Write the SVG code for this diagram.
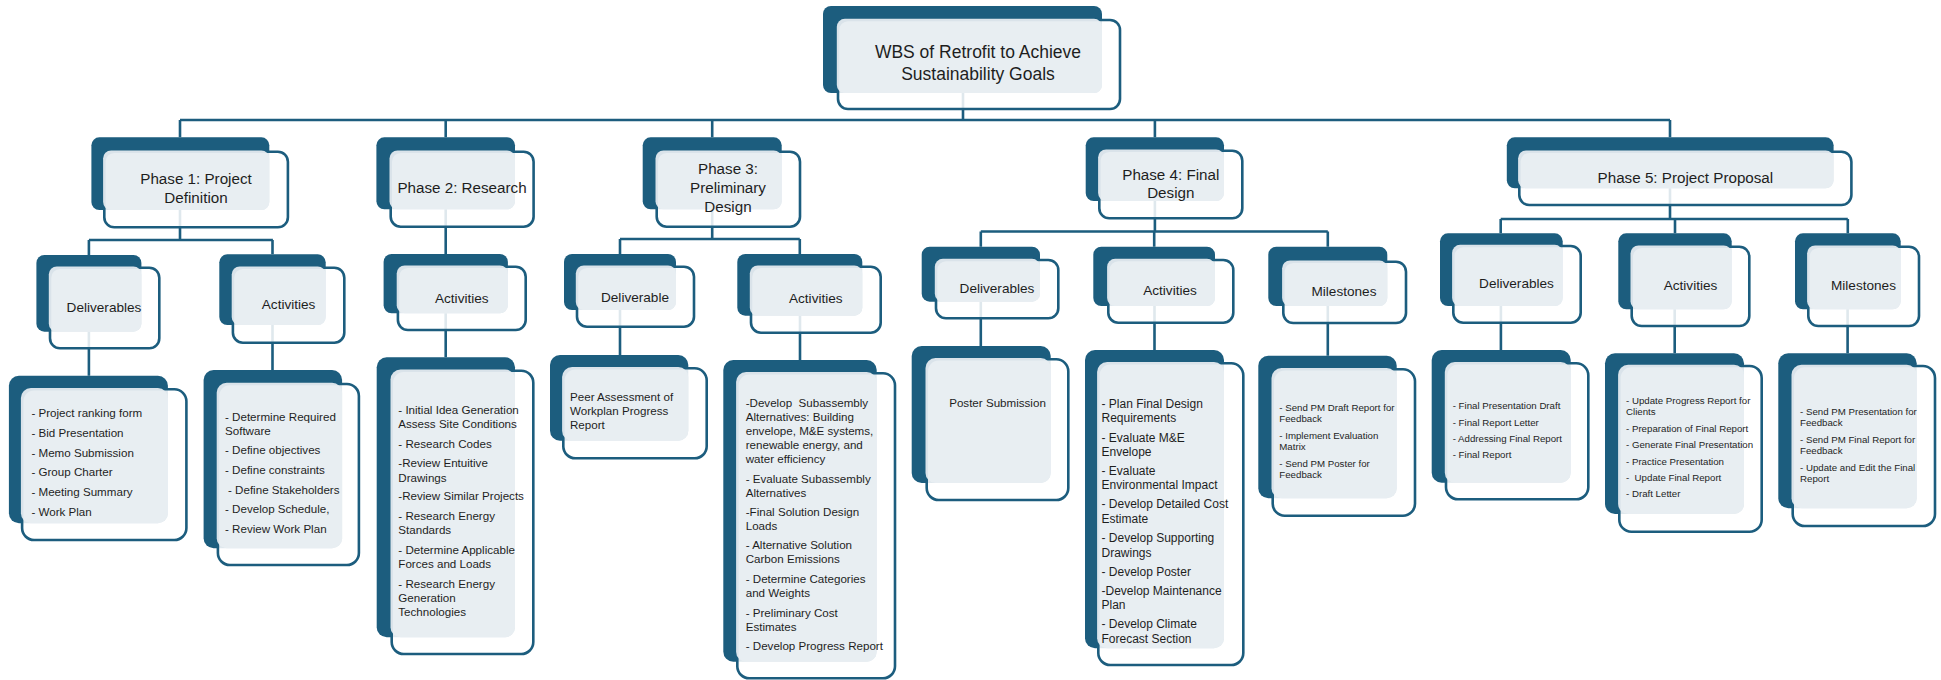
<svg xmlns="http://www.w3.org/2000/svg" width="1941" height="680" viewBox="0 0 1941 680">
<style>
.dk{fill:#1c5d7e}
.fr{fill:#ffffff;fill-opacity:0.86;stroke:#1c5d7e;stroke-width:2.6}
.lt{fill:#e8eef2;fill-opacity:0.93}
.cn{stroke:#1c5d7e;stroke-width:2.6;fill:none}
text{font-family:"Liberation Sans",Arial,sans-serif;fill:#1e1e1e}
.t1{font-size:17.5px;text-anchor:middle}
.t2{font-size:15.2px;text-anchor:middle}
.t3{font-size:13.6px;text-anchor:middle}
.t4{font-size:11.6px}
.t5{font-size:9.7px}
</style>
<rect width="1941" height="680" fill="#ffffff"/>
<g id="connectors" class="cn">
<path d="M963 93V120M180 120H1670M180 120V137.3M445.7 120V137.3M712.2 120V137.3M1154.9 120V137.3M1670 120V137.3"/>
<path d="M180 210V240M88.9 240H272.9M88.9 240V255M272.5 240V254.3"/>
<path d="M445.7 209.3V254"/>
<path d="M712.2 209.3V239M620 239H799.8M620 239V254M799.8 239V254"/>
<path d="M1154.9 201V231.5M980.8 231.5H1327.8M980.8 231.5V246.7M1154.2 231.5V246.7M1327.8 231.5V246.7"/>
<path d="M1670 188.3V219M1500.7 219H1847.8M1500.7 219V233.3M1675 219V233.3M1847.8 219V233.3"/>
<path d="M88.9 331.7V375.7M272.5 325V370M445.7 313.3V357.3M620 310V355M800 315.7V360M980.8 301.7V346M1154.5 306V350M1327.8 306V355.7M1500.9 306V350M1674.7 309.3V353.3M1847.6 309.3V353.3"/>
</g>
<g id="n-root">
<rect class="dk" x="823" y="6" width="279" height="87" rx="8"/>
<rect class="fr" x="838" y="20" width="282" height="89" rx="10"/>
<rect class="lt" x="836.8" y="18.8" width="265.2" height="74.2" rx="8"/>
<text class="t1"><tspan x="978" y="58">WBS of Retrofit to Achieve</tspan><tspan x="978" y="80">Sustainability Goals</tspan></text>
</g>
<g id="n-p1">
<rect class="dk" x="91.4" y="137.3" width="177.9" height="72.7" rx="8"/>
<rect class="fr" x="104.3" y="151.7" width="183.6" height="75.6" rx="10"/>
<rect class="lt" x="103.1" y="150.5" width="166.2" height="59.5" rx="8"/>
<text class="t2"><tspan x="196" y="184.3">Phase 1: Project</tspan><tspan x="196" y="202.7">Definition</tspan></text>
</g>
<g id="n-p2">
<rect class="dk" x="376.4" y="137.3" width="138.6" height="72" rx="8"/>
<rect class="fr" x="390.7" y="151.7" width="142.9" height="75" rx="10"/>
<rect class="lt" x="389.5" y="150.5" width="125.5" height="58.8" rx="8"/>
<text class="t2" x="462" y="192.7">Phase 2: Research</text>
</g>
<g id="n-p3">
<rect class="dk" x="642.7" y="137.3" width="139" height="72" rx="8"/>
<rect class="fr" x="656.7" y="151.7" width="143.3" height="75" rx="10"/>
<rect class="lt" x="655.5" y="150.5" width="126.2" height="58.8" rx="8"/>
<text class="t2"><tspan x="728" y="174.3">Phase 3:</tspan><tspan x="728" y="193.3">Preliminary</tspan><tspan x="728" y="211.7">Design</tspan></text>
</g>
<g id="n-p4">
<rect class="dk" x="1085.7" y="137.3" width="138.3" height="63.7" rx="8"/>
<rect class="fr" x="1099.3" y="150.7" width="143" height="67.6" rx="10"/>
<rect class="lt" x="1098.1" y="149.5" width="125.9" height="51.5" rx="8"/>
<text class="t2"><tspan x="1170.8" y="180">Phase 4: Final</tspan><tspan x="1170.8" y="198.3">Design</tspan></text>
</g>
<g id="n-p5">
<rect class="dk" x="1506.8" y="137.3" width="326.8" height="51" rx="8"/>
<rect class="fr" x="1519.3" y="151.7" width="332.1" height="53.3" rx="10"/>
<rect class="lt" x="1518.1" y="150.5" width="315.5" height="37.8" rx="8"/>
<text class="t2" x="1685.4" y="182.7">Phase 5: Project Proposal</text>
</g>
<g id="n-p1-deliverables">
<rect class="dk" x="36.4" y="255" width="105" height="76.7" rx="8"/>
<rect class="fr" x="50" y="267.7" width="109.3" height="80.6" rx="10"/>
<rect class="lt" x="48.8" y="266.5" width="92.6" height="65.2" rx="8"/>
<text class="t3" x="104" y="311.7">Deliverables</text>
</g>
<g id="n-p1-activities">
<rect class="dk" x="219.3" y="254.3" width="106.4" height="70.7" rx="8"/>
<rect class="fr" x="232.9" y="267.7" width="111.4" height="75" rx="10"/>
<rect class="lt" x="231.7" y="266.5" width="94" height="58.5" rx="8"/>
<text class="t3" x="288.6" y="309">Activities</text>
</g>
<g id="n-p2-activities">
<rect class="dk" x="383.6" y="254" width="124.3" height="59.3" rx="8"/>
<rect class="fr" x="397.9" y="266.7" width="127.8" height="63.3" rx="10"/>
<rect class="lt" x="396.7" y="265.5" width="111.2" height="47.8" rx="8"/>
<text class="t3" x="461.8" y="302.7">Activities</text>
</g>
<g id="n-p3-deliverable">
<rect class="dk" x="564" y="254" width="112" height="56" rx="8"/>
<rect class="fr" x="577" y="266.7" width="117" height="60" rx="10"/>
<rect class="lt" x="575.8" y="265.5" width="100.2" height="44.5" rx="8"/>
<text class="t3" x="635" y="301.7">Deliverable</text>
</g>
<g id="n-p3-activities">
<rect class="dk" x="737.3" y="254" width="125" height="61.7" rx="8"/>
<rect class="fr" x="751" y="266.7" width="129.7" height="66" rx="10"/>
<rect class="lt" x="749.8" y="265.5" width="112.5" height="50.2" rx="8"/>
<text class="t3" x="815.8" y="303.3">Activities</text>
</g>
<g id="n-p4-deliverables">
<rect class="dk" x="921.7" y="246.7" width="118.3" height="55" rx="8"/>
<rect class="fr" x="936" y="260" width="122.3" height="58.3" rx="10"/>
<rect class="lt" x="934.8" y="258.8" width="105.2" height="42.9" rx="8"/>
<text class="t3" x="997" y="292.7">Deliverables</text>
</g>
<g id="n-p4-activities">
<rect class="dk" x="1093.3" y="246.7" width="121.7" height="59.3" rx="8"/>
<rect class="fr" x="1108.3" y="260" width="125" height="62.7" rx="10"/>
<rect class="lt" x="1107.1" y="258.8" width="107.9" height="47.2" rx="8"/>
<text class="t3" x="1170" y="295">Activities</text>
</g>
<g id="n-p4-milestones">
<rect class="dk" x="1268.3" y="246.7" width="119" height="59.3" rx="8"/>
<rect class="fr" x="1283.3" y="261.7" width="122.7" height="61.3" rx="10"/>
<rect class="lt" x="1282.1" y="260.5" width="105.2" height="45.5" rx="8"/>
<text class="t3" x="1344" y="296">Milestones</text>
</g>
<g id="n-p5-deliverables">
<rect class="dk" x="1440" y="233.3" width="122.7" height="72.7" rx="8"/>
<rect class="fr" x="1453.3" y="246" width="127.4" height="76.7" rx="10"/>
<rect class="lt" x="1452.1" y="244.8" width="110.6" height="61.2" rx="8"/>
<text class="t3" x="1516.5" y="288.3">Deliverables</text>
</g>
<g id="n-p5-activities">
<rect class="dk" x="1618.3" y="233.3" width="113.4" height="76" rx="8"/>
<rect class="fr" x="1631.7" y="246.7" width="117.6" height="79.3" rx="10"/>
<rect class="lt" x="1630.5" y="245.5" width="101.2" height="63.8" rx="8"/>
<text class="t3" x="1690.5" y="290">Activities</text>
</g>
<g id="n-p5-milestones">
<rect class="dk" x="1795" y="233.3" width="105.7" height="76" rx="8"/>
<rect class="fr" x="1808.3" y="246.7" width="110.7" height="79.3" rx="10"/>
<rect class="lt" x="1807.1" y="245.5" width="93.6" height="63.8" rx="8"/>
<text class="t3" x="1863.5" y="290">Milestones</text>
</g>
<g id="n-p1-deliverables-list">
<rect class="dk" x="8.9" y="375.7" width="159" height="147.6" rx="10"/>
<rect class="fr" x="22.1" y="389.3" width="164.3" height="150.7" rx="12"/>
<rect class="lt" x="20.9" y="388.1" width="147" height="135.2" rx="10"/>
<text class="t4"><tspan x="31.4" y="417.3">- Project ranking form</tspan><tspan x="31.4" y="437">- Bid Presentation</tspan><tspan x="31.4" y="456.7">- Memo Submission</tspan><tspan x="31.4" y="476.3">- Group Charter</tspan><tspan x="31.4" y="496">- Meeting Summary</tspan><tspan x="31.4" y="515.5">- Work Plan</tspan></text>
</g>
<g id="n-p1-activities-list">
<rect class="dk" x="203.6" y="370" width="138.5" height="178.3" rx="10"/>
<rect class="fr" x="217.9" y="384" width="141" height="181" rx="12"/>
<rect class="lt" x="216.7" y="382.8" width="125.4" height="165.5" rx="10"/>
<text class="t4"><tspan x="225" y="421">- Determine Required</tspan><tspan x="225" y="434.5">Software</tspan><tspan x="225" y="454.3">- Define objectives</tspan><tspan x="225" y="474.3">- Define constraints</tspan><tspan x="228" y="494">- Define Stakeholders</tspan><tspan x="225" y="513.3">- Develop Schedule,</tspan><tspan x="225" y="532.7">- Review Work Plan</tspan></text>
</g>
<g id="n-p2-activities-list">
<rect class="dk" x="376.7" y="357.3" width="138.3" height="280" rx="10"/>
<rect class="fr" x="391.7" y="370.7" width="141.6" height="283.3" rx="12"/>
<rect class="lt" x="390.5" y="369.5" width="124.5" height="267.8" rx="10"/>
<text class="t4"><tspan x="398.3" y="414">- Initial Idea Generation</tspan><tspan x="398.3" y="427.7">Assess Site Conditions</tspan><tspan x="398.3" y="447.7">- Research Codes</tspan><tspan x="398.3" y="467.3">-Review Entuitive</tspan><tspan x="398.3" y="481.7">Drawings</tspan><tspan x="398.3" y="500">-Review Similar Projects</tspan><tspan x="398.3" y="520">- Research Energy</tspan><tspan x="398.3" y="534.3">Standards</tspan><tspan x="398.3" y="554.3">- Determine Applicable</tspan><tspan x="398.3" y="568.3">Forces and Loads</tspan><tspan x="398.3" y="587.7">- Research Energy</tspan><tspan x="398.3" y="601.5">Generation</tspan><tspan x="398.3" y="615.5">Technologies</tspan></text>
</g>
<g id="n-p3-deliverable-list">
<rect class="dk" x="550" y="355" width="138.3" height="85.7" rx="10"/>
<rect class="fr" x="563.3" y="368.3" width="143.4" height="90" rx="12"/>
<rect class="lt" x="562.1" y="367.1" width="126.2" height="73.6" rx="10"/>
<text class="t4"><tspan x="570" y="400.7">Peer Assessment of</tspan><tspan x="570" y="415">Workplan Progress</tspan><tspan x="570" y="429">Report</tspan></text>
</g>
<g id="n-p3-activities-list">
<rect class="dk" x="723.3" y="360" width="153.4" height="301.7" rx="10"/>
<rect class="fr" x="737.3" y="373.3" width="157.7" height="305" rx="12"/>
<rect class="lt" x="736.1" y="372.1" width="140.6" height="289.6" rx="10"/>
<text class="t4" xml:space="preserve"><tspan x="745.7" y="406.7">-Develop  Subassembly</tspan><tspan x="745.7" y="421">Alternatives: Building</tspan><tspan x="745.7" y="435">envelope, M&amp;E systems,</tspan><tspan x="745.7" y="449">renewable energy, and</tspan><tspan x="745.7" y="463.3">water efficiency</tspan><tspan x="745.7" y="483.3">- Evaluate Subassembly</tspan><tspan x="745.7" y="497.3">Alternatives</tspan><tspan x="745.7" y="515.7">-Final Solution Design</tspan><tspan x="745.7" y="530">Loads</tspan><tspan x="745.7" y="549.3">- Alternative Solution</tspan><tspan x="745.7" y="563.3">Carbon Emissions</tspan><tspan x="745.7" y="583.3">- Determine Categories</tspan><tspan x="745.7" y="596.7">and Weights</tspan><tspan x="745.7" y="616.7">- Preliminary Cost</tspan><tspan x="745.7" y="630.7">Estimates</tspan><tspan x="745.7" y="650">- Develop Progress Report</tspan></text>
</g>
<g id="n-p4-deliverables-list">
<rect class="dk" x="911.7" y="346" width="139" height="137" rx="10"/>
<rect class="fr" x="926.7" y="359.3" width="141.6" height="140.7" rx="12"/>
<rect class="lt" x="925.5" y="358.1" width="125.2" height="124.9" rx="10"/>
<text class="t4" x="997.5" y="406.7" text-anchor="middle">Poster Submission</text>
</g>
<g id="n-p4-activities-list">
<rect class="dk" x="1085" y="350" width="139" height="298.3" rx="10"/>
<rect class="fr" x="1098.3" y="363.3" width="145" height="301.7" rx="12"/>
<rect class="lt" x="1097.1" y="362.1" width="126.9" height="286.2" rx="10"/>
<text class="t4" style="font-size:12px"><tspan x="1101.5" y="407.7">- Plan Final Design</tspan><tspan x="1101.5" y="421.7">Requirements</tspan><tspan x="1101.5" y="441.7">- Evaluate M&amp;E</tspan><tspan x="1101.5" y="456">Envelope</tspan><tspan x="1101.5" y="475">- Evaluate</tspan><tspan x="1101.5" y="489.3">Environmental Impact</tspan><tspan x="1101.5" y="508.3">- Develop Detailed Cost</tspan><tspan x="1101.5" y="522.7">Estimate</tspan><tspan x="1101.5" y="542.3">- Develop Supporting</tspan><tspan x="1101.5" y="556.7">Drawings</tspan><tspan x="1101.5" y="575.7">- Develop Poster</tspan><tspan x="1101.5" y="595">-Develop Maintenance</tspan><tspan x="1101.5" y="609.3">Plan</tspan><tspan x="1101.5" y="628.3">- Develop Climate</tspan><tspan x="1101.5" y="642.7">Forecast Section</tspan></text>
</g>
<g id="n-p4-milestones-list">
<rect class="dk" x="1258.3" y="355.7" width="138.4" height="142.6" rx="10"/>
<rect class="fr" x="1272.7" y="369.3" width="142.3" height="146.4" rx="12"/>
<rect class="lt" x="1271.5" y="368.1" width="125.2" height="130.2" rx="10"/>
<text class="t5"><tspan x="1279.3" y="410.7">- Send PM Draft Report for</tspan><tspan x="1279.3" y="421.7">Feedback</tspan><tspan x="1279.3" y="439">- Implement Evaluation</tspan><tspan x="1279.3" y="450">Matrix</tspan><tspan x="1279.3" y="467.3">- Send PM Poster for</tspan><tspan x="1279.3" y="478.3">Feedback</tspan></text>
</g>
<g id="n-p5-deliverables-list">
<rect class="dk" x="1431.7" y="350" width="139" height="132.7" rx="10"/>
<rect class="fr" x="1446" y="363.3" width="142.3" height="136" rx="12"/>
<rect class="lt" x="1444.8" y="362.1" width="125.9" height="120.6" rx="10"/>
<text class="t5"><tspan x="1452.7" y="409">- Final Presentation Draft</tspan><tspan x="1452.7" y="425.7">- Final Report Letter</tspan><tspan x="1452.7" y="441.7">- Addressing Final Report</tspan><tspan x="1452.7" y="458.3">- Final Report</tspan></text>
</g>
<g id="n-p5-activities-list">
<rect class="dk" x="1605" y="353.3" width="139" height="160.7" rx="10"/>
<rect class="fr" x="1619.3" y="366" width="142.4" height="165.7" rx="12"/>
<rect class="lt" x="1618.1" y="364.8" width="125.9" height="149.2" rx="10"/>
<text class="t5" xml:space="preserve"><tspan x="1626" y="404">- Update Progress Report for</tspan><tspan x="1626" y="415">Clients</tspan><tspan x="1626" y="432.3">- Preparation of Final Report</tspan><tspan x="1626" y="448.3">- Generate Final Presentation</tspan><tspan x="1626" y="465">- Practice Presentation</tspan><tspan x="1626" y="480.7">-  Update Final Report</tspan><tspan x="1626" y="497.3">- Draft Letter</tspan></text>
</g>
<g id="n-p5-milestones-list">
<rect class="dk" x="1778.3" y="353.3" width="138.4" height="155" rx="10"/>
<rect class="fr" x="1792.7" y="366" width="142.3" height="160" rx="12"/>
<rect class="lt" x="1791.5" y="364.8" width="125.2" height="143.5" rx="10"/>
<text class="t5"><tspan x="1800" y="415">- Send PM Presentation for</tspan><tspan x="1800" y="426">Feedback</tspan><tspan x="1800" y="443.3">- Send PM Final Report for</tspan><tspan x="1800" y="454">Feedback</tspan><tspan x="1800" y="471">- Update and Edit the Final</tspan><tspan x="1800" y="482.3">Report</tspan></text>
</g>
</svg>
